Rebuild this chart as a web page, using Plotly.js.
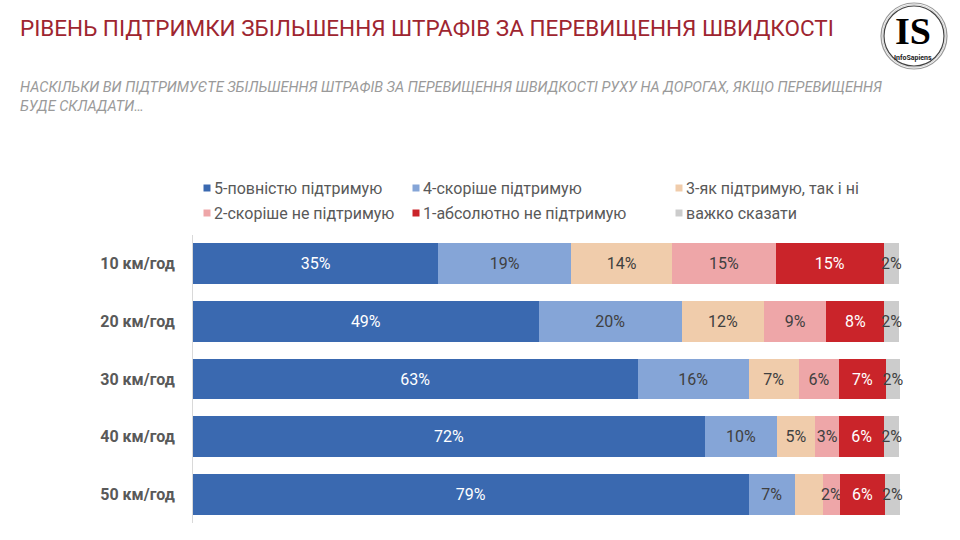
<!DOCTYPE html>
<html>
<head>
<meta charset="utf-8">
<script src="https://cdn.plot.ly/plotly-3.0.1.min.js"></script>
<style>html,body{margin:0;padding:0;background:#fff;}#chart{width:960px;height:540px;}</style>
</head>
<body>
<div id="chart"></div>
<script>
const categories = ["10 км/год", "20 км/год", "30 км/год", "40 км/год", "50 км/год"];
const seriesNames = ["5-повністю підтримую", "4-скоріше підтримую", "3-як підтримую, так і ні",
                     "2-скоріше не підтримую", "1-абсолютно не підтримую", "важко сказати"];
const s5 = [34.7, 48.9, 62.9, 72.4, 78.6];
const s4 = [18.8, 20.2, 15.7, 10.2, 6.5];
const s3 = [14.3, 11.7, 7.1, 5.4, 4.0];
const s2 = [14.6, 8.8, 5.7, 3.4, 2.4];
const s1 = [15.3, 8.2, 6.6, 6.4, 6.4];
const s0 = [2.2, 2.1, 2.0, 2.1, 2.1];
const l5 = ["35%", "49%", "63%", "72%", "79%"];
const l4 = ["19%", "20%", "16%", "10%", "7%"];
const l3 = ["14%", "12%", "7%", "5%", ""];
const l2 = ["15%", "9%", "6%", "3%", "2%"];
const l1 = ["15%", "8%", "7%", "6%", "6%"];
const l0 = ["2%", "2%", "2%", "2%", "2%"];

const colors = ["#3A69B0", "#85A5D7", "#F0CCAB", "#EEA6A8", "#CA242A", "#CCCCCC"];
const textColors = ["#FFFFFF", "#404040", "#404040", "#404040", "#FFFFFF", "#404040"];
const values = [s5, s4, s3, s2, s1, s0];
const labels = [l5, l4, l3, l2, l1, l0];

const traces = values.map((v, i) => ({
  type: "bar",
  orientation: "h",
  name: seriesNames[i],
  y: categories,
  x: v,
  text: labels[i],
  texttemplate: "%{text}",
  textposition: "inside",
  insidetextanchor: "middle",
  textangle: 0,
  constraintext: "none",
  cliponaxis: false,
  textfont: {family: "Roboto, sans-serif", size: 16, color: textColors[i]},
  marker: {color: colors[i], line: {width: 0}},
  hoverinfo: "skip",
  showlegend: false
}));

// plot area in pixels
const PL = 193, PR = 900, PT = 235, PB = 523;
const px = x => (x - PL) / (PR - PL);
const py = y => (PB - y) / (PB - PT);

// manual legend (two rows, three aligned columns)
const legX = [207, 416, 679];
const legY = [188, 213];
const shapes = [];
const annotations = [];
seriesNames.forEach((n, i) => {
  const col = i % 3, row = Math.floor(i / 3);
  const x = legX[col], y = legY[row];
  shapes.push({type: "rect", xref: "paper", yref: "paper",
    x0: px(x - 3.5), x1: px(x + 3.5), y0: py(y + 3.5), y1: py(y - 3.5),
    fillcolor: colors[i], line: {width: 0}});
  annotations.push({xref: "paper", yref: "paper", x: px(x + 5), y: py(y), xanchor: "left", yanchor: "middle",
    text: n, showarrow: false, font: {family: "Roboto, sans-serif", size: 16, color: "#595959"}});
});

// title & subtitle
annotations.push({xref: "paper", yref: "paper", x: px(18), y: py(28), xanchor: "left", yanchor: "middle",
  text: "РІВЕНЬ ПІДТРИМКИ ЗБІЛЬШЕННЯ ШТРАФІВ ЗА ПЕРЕВИЩЕННЯ ШВИДКОСТІ", showarrow: false,
  font: {family: "Roboto, sans-serif", size: 22.5, color: "#9E2530"}});
annotations.push({xref: "paper", yref: "paper", x: px(18), y: py(97), xanchor: "left", yanchor: "middle", align: "left",
  text: "<i>НАСКІЛЬКИ ВИ ПІДТРИМУЄТЕ ЗБІЛЬШЕННЯ ШТРАФІВ ЗА ПЕРЕВИЩЕННЯ ШВИДКОСТІ РУХУ НА ДОРОГАХ, ЯКЩО ПЕРЕВИЩЕННЯ<br>БУДЕ СКЛАДАТИ…</i>",
  showarrow: false, font: {family: "Roboto, sans-serif", size: 14.5, color: "#9A9A9A"}});

// logo
const cx = 914, cy = 36;
[[33, "#999999", 1.2], [31.5, "#C8C8C8", 0.8], [30, "#444444", 1.2]].forEach(r => {
  shapes.push({type: "circle", xref: "paper", yref: "paper",
    x0: px(cx - r[0]), x1: px(cx + r[0]), y0: py(cy + r[0]), y1: py(cy - r[0]),
    line: {color: r[1], width: r[2]}, fillcolor: "rgba(0,0,0,0)"});
});
annotations.push({xref: "paper", yref: "paper", x: px(cx - 1), y: py(31), xanchor: "center", yanchor: "middle",
  text: "<b>IS</b>", showarrow: false, font: {family: "Liberation Serif, serif", size: 38, color: "#000000"}});
annotations.push({xref: "paper", yref: "paper", x: px(cx - 1), y: py(58), xanchor: "center", yanchor: "middle",
  text: "<b>InfoSapiens</b>", showarrow: false, font: {family: "Roboto, sans-serif", size: 7, color: "#222222"}});

const layout = {
  width: 960, height: 540,
  margin: {l: PL, r: 960 - PR, t: PT, b: 540 - PB, pad: 0},
  paper_bgcolor: "#FFFFFF", plot_bgcolor: "#FFFFFF",
  barmode: "stack",
  bargap: 0.29,
  showlegend: false,
  xaxis: {range: [0, 100], showgrid: false, zeroline: false, showticklabels: false, showline: false, fixedrange: true},
  yaxis: {autorange: "reversed", showgrid: false, zeroline: false, showline: true, linecolor: "#D9D9D9", linewidth: 1,
    ticks: "", ticklabelstandoff: 14,
    tickfont: {family: "Roboto, sans-serif", size: 16, color: "#595959", weight: "bold"}},
  shapes: shapes,
  annotations: annotations,
  font: {family: "Roboto, sans-serif"}
};

Plotly.newPlot("chart", traces, layout, {displayModeBar: false, staticPlot: true});
</script>
</body>
</html>
